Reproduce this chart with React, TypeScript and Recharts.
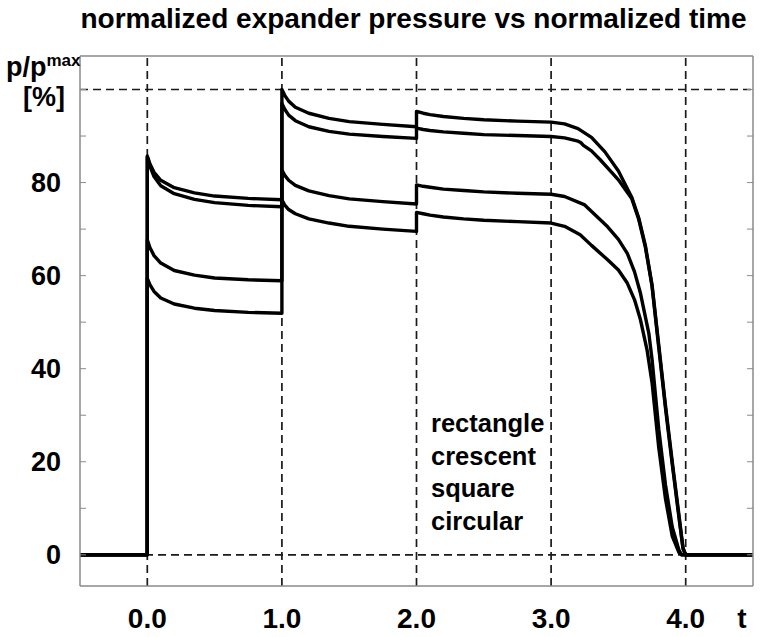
import React from 'react'
import { LineChart, Line, XAxis, YAxis, ReferenceLine } from 'recharts'

// time grid of each phase (normalized time)
const preT = [-0.5, 0]
const phase1T = [0, 0.02, 0.05, 0.1, 0.2, 0.35, 0.5, 0.75, 1]
const phase2T = [1, 1.02, 1.05, 1.1, 1.2, 1.35, 1.5, 1.75, 2]
const phase3T = [2, 2.05, 2.1, 2.2, 2.35, 2.5, 2.75, 3]
const postT = [4.5]

// rectangle
const rect1 = [85.7, 84.0, 82.2, 80.5, 78.9, 77.8, 77.1, 76.6, 76.3]
const rect2 = [100, 98.8, 97.5, 96.2, 94.9, 93.8, 93.1, 92.5, 92.0]
const rect3 = [95.3, 94.9, 94.6, 94.2, 93.8, 93.5, 93.2, 93.0]
const rectDropT = [3.1, 3.2, 3.3, 3.4, 3.5, 3.6, 3.65, 3.7, 3.75, 3.8, 3.85, 3.9, 3.95, 3.98, 4.0]
const rectDropP = [92.6, 91.6, 89.7, 86.6, 82.5, 76.8, 72.5, 66.5, 58, 45, 32, 20, 8.5, 1.5, 0]

// crescent
const cres1 = [85.5, 83.5, 81.3, 79.3, 77.6, 76.4, 75.7, 75.1, 74.8]
const cres2 = [97.0, 95.8, 94.5, 93.3, 92.0, 91.0, 90.4, 89.9, 89.5]
const cres3 = [91.7, 91.4, 91.2, 90.9, 90.6, 90.3, 90.1, 89.9]
const cresDropT = [3.1, 3.2, 3.22, 3.24, 3.3, 3.365, 3.45, 3.5, 3.6, 3.65, 3.7, 3.75, 3.8, 3.85, 3.9, 3.95, 3.98, 4.0]
const cresDropP = [89.6, 88.9, 88.6, 88.0, 86.8, 84.9, 82.2, 80.6, 76.5, 72.2, 66.2, 57.7, 44.5, 31.5, 19.5, 8, 1.3, 0]

// square
const sq1 = [67.7, 66.0, 64.3, 62.7, 61.1, 60.1, 59.5, 59.1, 58.9]
const sq2 = [82.7, 81.6, 80.5, 79.4, 78.2, 77.2, 76.5, 75.9, 75.4]
const sq3 = [79.5, 79.2, 79.0, 78.6, 78.3, 78.0, 77.7, 77.5]
const sqDropT = [3.1, 3.25, 3.42, 3.5, 3.566, 3.62, 3.664, 3.726, 3.75, 3.8, 3.85, 3.9, 3.95, 3.97]
const sqDropP = [77.0, 75.2, 70.5, 67.8, 64.8, 60.8, 56.2, 47.6, 42, 27, 15, 6, 1, 0]

// circular
const circ1 = [59.4, 58.0, 56.6, 55.2, 53.9, 53.0, 52.5, 52.1, 51.9]
const circ2 = [76.3, 75.2, 74.2, 73.3, 72.2, 71.3, 70.6, 70.0, 69.5]
const circ3 = [73.6, 73.3, 73.0, 72.6, 72.2, 71.9, 71.6, 71.3]
const circDropT = [3.1, 3.216, 3.3, 3.42, 3.5, 3.566, 3.62, 3.664, 3.713, 3.75, 3.8, 3.85, 3.9, 3.95, 3.97]
const circDropP = [70.6, 68.8, 66.5, 63.4, 61.2, 58.4, 54.8, 50.5, 44, 37, 23, 12, 4, 0.5, 0]

const legendNames = ['rectangle', 'crescent', 'square', 'circular']
const xLabelTicks = [0, 1, 2, 3, 4]
const xMinorTicks = [0, 0.5, 1, 1.5, 2, 2.5, 3, 3.5, 4]
const yLabelTicks = [0, 20, 40, 60, 80]
const yMinorTicks = [0, 10, 20, 30, 40, 50, 60, 70, 80, 90, 100]
const xGrid = [0, 1, 2, 3, 4]
const yGrid = [0, 100]

const pairs = (ts: number[], ps: number[]) => ts.map((t, i) => ({ t, p: ps[i] }))

function buildCurve(s1: number[], s2: number[], s3: number[], dropT: number[], dropP: number[]) {
  return [
    ...pairs(preT, [0, 0]),
    ...pairs(phase1T, s1),
    ...pairs(phase2T, s2),
    ...pairs(phase3T, s3),
    ...pairs(dropT, dropP),
    ...pairs(postT, [0]),
  ]
}

const curves = [
  buildCurve(rect1, rect2, rect3, rectDropT, rectDropP),
  buildCurve(cres1, cres2, cres3, cresDropT, cresDropP),
  buildCurve(sq1, sq2, sq3, sqDropT, sqDropP),
  buildCurve(circ1, circ2, circ3, circDropT, circDropP),
]

const FONT = '"Liberation Sans", Arial, Helvetica, sans-serif'
const FRAME = '#8a8a8a'
const X_DOMAIN = [-0.5, 4.5]
const Y_DOMAIN = [-6.7, 107.2]

const XTick = (props: any) => (
  <text x={props.x} y={props.y} dy={42} textAnchor="middle" fontFamily={FONT} fontWeight="bold" fontSize={28} fill="#000">
    {Number(props.payload.value).toFixed(1)}
  </text>
)

const YTick = (props: any) => (
  <text x={props.x} y={props.y} dy={9.5} textAnchor="end" fontFamily={FONT} fontWeight="bold" fontSize={27} fill="#000">
    {props.payload.value}
  </text>
)

const NoLabel = () => <g />

export default function App() {
  return (
    <div style={{ position: 'absolute', left: 0, top: 0, width: 762, height: 637, background: '#fff' }}>
      <LineChart width={762} height={637} margin={{ top: 56, right: 9, bottom: 0, left: 0 }}>
        {/* inner tick marks on all four sides */}
        <XAxis xAxisId="bt" type="number" domain={X_DOMAIN} ticks={xMinorTicks} orientation="bottom" mirror
          allowDataOverflow tickSize={6} tickLine={{ stroke: FRAME }} axisLine={false} tick={NoLabel} />
        <XAxis xAxisId="tp" type="number" domain={X_DOMAIN} ticks={xMinorTicks} orientation="top" mirror
          allowDataOverflow tickSize={5} tickLine={{ stroke: FRAME }} axisLine={{ stroke: FRAME, strokeWidth: 1.5 }} tick={NoLabel} />
        <YAxis yAxisId="lt" type="number" domain={Y_DOMAIN} ticks={yMinorTicks} orientation="left" mirror
          allowDataOverflow tickSize={6} tickLine={{ stroke: FRAME }} axisLine={false} tick={NoLabel} />
        <YAxis yAxisId="rt" type="number" domain={Y_DOMAIN} ticks={yMinorTicks} orientation="right" mirror
          allowDataOverflow tickSize={6} tickLine={{ stroke: FRAME }} axisLine={{ stroke: FRAME, strokeWidth: 1.5 }} tick={NoLabel} />

        <XAxis xAxisId="x" dataKey="t" type="number" domain={X_DOMAIN} ticks={xLabelTicks} allowDataOverflow
          height={51} tickSize={0} tickMargin={0} tickLine={false} axisLine={{ stroke: FRAME, strokeWidth: 1.5 }} tick={XTick} />
        <YAxis yAxisId="y" type="number" domain={Y_DOMAIN} ticks={yLabelTicks} allowDataOverflow
          width={80} tickSize={0} tickMargin={19} tickLine={false} axisLine={{ stroke: FRAME, strokeWidth: 1.5 }} tick={YTick} />

        {xGrid.map(v => (
          <ReferenceLine key={'gx' + v} xAxisId="x" yAxisId="y" x={v} stroke="#1a1a1a" strokeWidth={1.7} strokeDasharray="8 5" />
        ))}
        {yGrid.map(v => (
          <ReferenceLine key={'gy' + v} xAxisId="x" yAxisId="y" y={v} stroke="#1a1a1a" strokeWidth={1.7} strokeDasharray="8 5" />
        ))}

        {curves.map((d, i) => (
          <Line key={legendNames[i]} name={legendNames[i]} xAxisId="x" yAxisId="y" data={d} dataKey="p"
            type="linear" stroke="#000" strokeWidth={3.4} strokeLinejoin="round" dot={false}
            isAnimationActive={false} />
        ))}
      </LineChart>

      <svg width={762} height={637} style={{ position: 'absolute', left: 0, top: 0, pointerEvents: 'none' }}
        fontFamily={FONT} fontWeight="bold" fill="#000">
        <text x={413.5} y={28} textAnchor="middle" fontSize={28}>normalized expander pressure vs normalized time</text>
        <text x={6} y={76} fontSize={27}>
          p/p<tspan fontSize={17} dy={-10}>max</tspan>
        </text>
        <text x={44} y={106} textAnchor="middle" fontSize={27}>[%]</text>
        <text x={742} y={628} textAnchor="middle" fontSize={28}>t</text>
        {legendNames.map((n, i) => (
          <text key={n} x={431} y={432 + i * 32.7} fontSize={25.5}>{n}</text>
        ))}
      </svg>
    </div>
  )
}
